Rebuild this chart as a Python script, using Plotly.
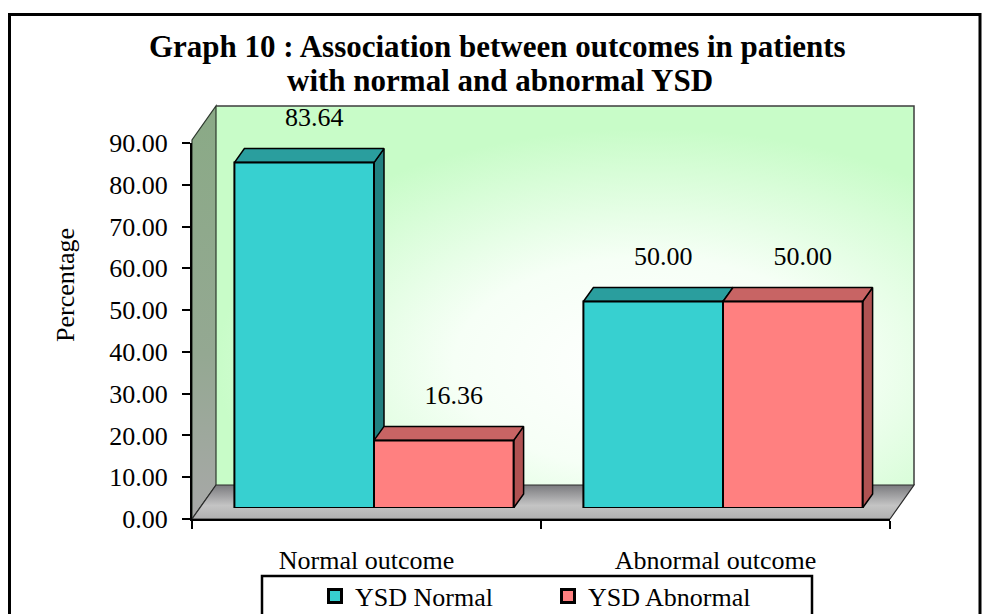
import base64
import plotly.graph_objects as go

# ---- data -------------------------------------------------------------
categories = ["Normal outcome", "Abnormal outcome"]
series_names = ["YSD Normal", "YSD Abnormal"]
ysd_normal = [83.64, 50.00]
ysd_abnormal = [16.36, 50.00]
y_ticks = [0, 10, 20, 30, 40, 50, 60, 70, 80, 90]

title_lines = ["Graph 10 : Association between outcomes in patients",
               "with normal and abnormal YSD"]
y_title = "Percentage"

# ---- styling / geometry (pixels) -------------------------------------
W, H = 986, 614
FONT = "Liberation Serif"
FS = 26

AX_L, AX_R = 192, 890          # front x-axis extent
AX_B, AX_T = 519, 143          # front plane: y=0 and y=90
Y_MAX = 90
BAR_Y_MAX = 100                # bar plane range leaves room for labels
DEPTH_X, DEPTH_Y = 24, -34     # depth of the walls / floor
BAR_SHIFT_X = 7.5              # bars sit part-way into the depth
BAR_BASE_Y = 508
BAR_SCALE = 4.13               # px per unit for the bar plane
FACE_DX, FACE_DY = 10, -14     # 3-D face offset of each bar
LABEL_LIFT = 43                # px between bar top and its value label

CYAN = dict(front="#37D0D0", top="#2A9E9E", side="#218080")
SALMON = dict(front="#FF8080", top="#C86464", side="#B05252")
palettes = [CYAN, SALMON]


def px(x):
    return x / W


def py(y):
    return 1 - y / H


# ---- background walls and floor drawn as an SVG backdrop -------------
bl = (AX_L + DEPTH_X, AX_B + DEPTH_Y)         # back-left-bottom corner
wall_top = AX_T - 3 + DEPTH_Y
svg = f"""<svg xmlns="http://www.w3.org/2000/svg" width="{W}" height="{H}" viewBox="0 0 {W} {H}">
<defs>
 <radialGradient id="wall" cx="0.62" cy="0.68" r="0.62">
  <stop offset="0" stop-color="#ffffff"/>
  <stop offset="0.45" stop-color="#f6fff6"/>
  <stop offset="1" stop-color="#c8fcc8"/>
 </radialGradient>
 <linearGradient id="side" x1="0" y1="0" x2="0" y2="1">
  <stop offset="0" stop-color="#8aaa86"/>
  <stop offset="0.6" stop-color="#94a892"/>
  <stop offset="1" stop-color="#a8a8a8"/>
 </linearGradient>
 <linearGradient id="floor" x1="0" y1="0" x2="0" y2="1">
  <stop offset="0" stop-color="#7a7a7e"/>
  <stop offset="0.6" stop-color="#c4c4c4"/>
  <stop offset="1" stop-color="#b0b0b0"/>
 </linearGradient>
</defs>
<rect x="{bl[0]}" y="{wall_top}" width="{AX_R + DEPTH_X - bl[0]}" height="{bl[1] - wall_top}"
      fill="url(#wall)" stroke="none"/>
<polyline points="{bl[0]},{wall_top} {AX_R + DEPTH_X},{wall_top} {AX_R + DEPTH_X},{bl[1]}"
      fill="none" stroke="#3c3c3c" stroke-width="1.5"/>
<polygon points="{AX_L},{AX_B} {AX_L},{AX_T - 3} {bl[0]},{wall_top} {bl[0]},{bl[1]}"
      fill="url(#side)" stroke="#2e3a2e" stroke-width="1.2"/>
<polygon points="{AX_L},{AX_B} {AX_R},{AX_B} {AX_R + DEPTH_X},{bl[1]} {bl[0]},{bl[1]}"
      fill="url(#floor)" stroke="#2a2a2a" stroke-width="1.2"/>
</svg>"""
backdrop = "data:image/svg+xml;base64," + base64.b64encode(svg.encode()).decode()

# ---- figure -----------------------------------------------------------
fig = go.Figure()

# category axis on the front plane
fig.add_trace(go.Scatter(x=categories, y=[0, 0], mode="markers",
                         marker=dict(opacity=0), hoverinfo="skip",
                         showlegend=False, xaxis="x", yaxis="y"))

BAR_W = 0.4
unit_x = (AX_R - AX_L) / 2.0          # px per category
dxu = FACE_DX / unit_x
dyu = -FACE_DY / BAR_SCALE
series = [ysd_normal, ysd_abnormal]
offsets = [-BAR_W, 0.0]

# top and side faces of every bar (behind the front faces)
for ci in range(len(categories)):
    for si, vals in enumerate(series):
        v = vals[ci]
        x0 = ci + offsets[si]
        x1 = x0 + BAR_W
        pal = palettes[si]
        side_x = [x1, x1, x1 + dxu, x1 + dxu, x1]
        side_y = [0, v, v + dyu, dyu, 0]
        top_x = [x0, x1, x1 + dxu, x0 + dxu, x0]
        top_y = [v, v, v + dyu, v + dyu, v]
        for fx, fy, col in ((side_x, side_y, pal["side"]), (top_x, top_y, pal["top"])):
            fig.add_trace(go.Scatter(x=fx, y=fy, mode="lines", fill="toself",
                                     fillcolor=col, line=dict(color="black", width=1.5),
                                     hoverinfo="skip", showlegend=False,
                                     xaxis="x2", yaxis="y2"))

# front faces
for si, vals in enumerate(series):
    fig.add_trace(go.Bar(x=list(range(len(categories))), y=vals, width=BAR_W,
                         offset=offsets[si], name=series_names[si],
                         showlegend=False,
                         marker=dict(color=palettes[si]["front"],
                                     line=dict(color="black", width=2)),
                         xaxis="x3", yaxis="y3"))

# legend keys (square swatches with a heavy outline)
for si, name in enumerate(series_names):
    fig.add_trace(go.Scatter(x=[None], y=[None], mode="markers", name=name,
                             marker=dict(symbol="square", size=13,
                                         color=palettes[si]["front"],
                                         line=dict(color="black", width=3)),
                             xaxis="x3", yaxis="y3"))

# value labels
lift = LABEL_LIFT / BAR_SCALE
for si, vals in enumerate(series):
    fig.add_trace(go.Scatter(
        x=[ci + offsets[si] + BAR_W / 2 + dxu for ci in range(len(categories))],
        y=[v + lift for v in vals], mode="text",
        text=[f"{v:.2f}" for v in vals], textposition="middle center",
        textfont=dict(family=FONT, size=FS, color="black"),
        cliponaxis=False, hoverinfo="skip", showlegend=False,
        xaxis="x3", yaxis="y3"))

bar_dom_x = [px(AX_L + BAR_SHIFT_X), px(AX_R + BAR_SHIFT_X)]
bar_dom_y = [py(BAR_BASE_Y), py(BAR_BASE_Y - BAR_Y_MAX * BAR_SCALE)]
hidden = dict(visible=False, showgrid=False, zeroline=False, fixedrange=True)

fig.update_layout(
    width=W, height=H, autosize=False,
    margin=dict(l=0, r=0, t=0, b=0, autoexpand=False),
    paper_bgcolor="white", plot_bgcolor="rgba(0,0,0,0)",
    font=dict(family=FONT, size=FS, color="black"),
    barmode="overlay",
    xaxis=dict(domain=[px(AX_L), px(AX_R)], type="category",
               range=[-0.5, 1.5], tickson="boundaries", ticks="outside",
               ticklen=8, tickwidth=2, tickcolor="black",
               showline=True, linewidth=2, linecolor="black",
               showgrid=False, zeroline=False, ticklabelstandoff=17,
               tickfont=dict(family=FONT, size=FS)),
    yaxis=dict(domain=[py(AX_B), py(AX_T)], range=[0, Y_MAX],
               tickvals=y_ticks, ticktext=[f"{t:.2f}" for t in y_ticks],
               ticks="outside", ticklen=8, tickwidth=2, tickcolor="black",
               showline=True, linewidth=2, linecolor="black",
               showgrid=False, zeroline=False, ticklabelstandoff=9,
               tickfont=dict(family=FONT, size=FS)),
    xaxis2=dict(domain=bar_dom_x, range=[-0.5, 1.5], anchor="y2", **hidden),
    yaxis2=dict(domain=bar_dom_y, range=[0, BAR_Y_MAX], anchor="x2", **hidden),
    xaxis3=dict(overlaying="x2", range=[-0.5, 1.5], anchor="y3", **hidden),
    yaxis3=dict(overlaying="y2", range=[0, BAR_Y_MAX], anchor="x3", **hidden),
    showlegend=True,
    legend=dict(orientation="h", x=px(315), xanchor="left",
                y=py(596), yanchor="middle",
                entrywidthmode="pixels", entrywidth=188,
                bgcolor="rgba(0,0,0,0)", borderwidth=0,
                font=dict(family=FONT, size=FS, color="black"),
                traceorder="normal"),
    images=[dict(source=backdrop, xref="paper", yref="paper", x=0, y=1,
                 sizex=1, sizey=1, xanchor="left", yanchor="top",
                 sizing="stretch", layer="below")],
    shapes=[
        dict(type="rect", xref="paper", yref="paper",
             x0=px(9.5), x1=px(980), y0=py(14.5), y1=py(660),
             line=dict(color="black", width=3), fillcolor="rgba(0,0,0,0)"),
        dict(type="rect", xref="paper", yref="paper",
             x0=px(262), x1=px(812), y0=py(576), y1=py(660),
             line=dict(color="black", width=2.5), fillcolor="rgba(0,0,0,0)"),
    ],
    annotations=[
        dict(text=f"<b>{title_lines[0]}</b>", xref="paper", yref="paper",
             x=px(497), y=py(46), xanchor="center", yanchor="middle",
             showarrow=False, font=dict(family=FONT, size=31, color="black")),
        dict(text=f"<b>{title_lines[1]}</b>", xref="paper", yref="paper",
             x=px(500), y=py(80), xanchor="center", yanchor="middle",
             showarrow=False, font=dict(family=FONT, size=31, color="black")),
        dict(text=y_title, xref="paper", yref="paper", x=px(65), y=py(285),
             xanchor="center", yanchor="middle", textangle=-90, showarrow=False,
             font=dict(family=FONT, size=FS, color="black")),
    ],
)

fig.write_html("out.html")
